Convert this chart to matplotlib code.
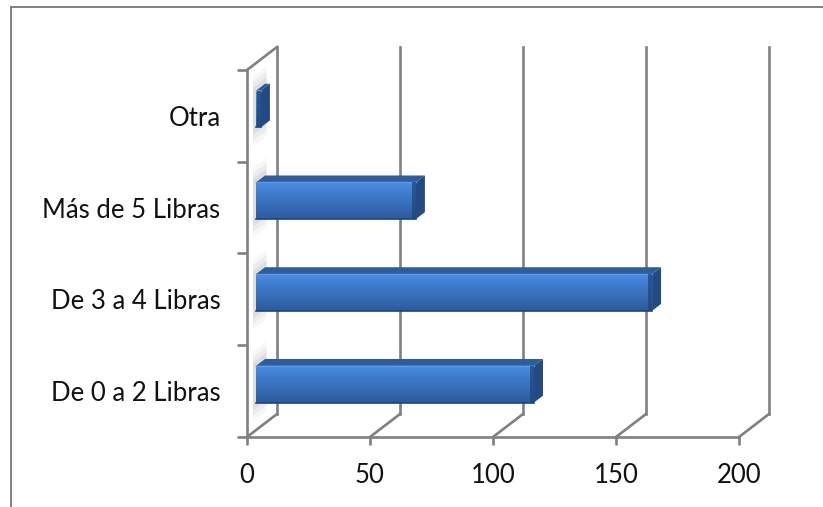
import numpy as np
import matplotlib.pyplot as plt
from matplotlib.transforms import Affine2D, IdentityTransform
from matplotlib.patches import Polygon
from matplotlib.lines import Line2D
from matplotlib.colors import LinearSegmentedColormap

categorias = ['De 0 a 2 Libras', 'De 3 a 4 Libras', 'Más de 5 Libras', 'Otra']
valores = [113, 161, 65, 2]
ticks_x = [0, 50, 100, 150, 200]

W, H = 823, 507
DX, DY = 30, 23          # profundidad del grafico 3D, en pixeles
D0, D1 = 0.3, 0.6        # cara delantera / trasera de las barras
ALTO = 0.4               # alto de barra (en categorias)
BISEL = 4                # ancho del bisel oscuro al final de la barra, px
GRIS = '#808080'
LW = 1.9

plt.rcParams['font.family'] = ['Lato', 'DejaVu Sans']

fig = plt.figure(figsize=(W / 100, H / 100), dpi=100)
ax = fig.add_axes([247 / W, 1 - 437 / H, (739 - 247) / W, (437 - 70) / H])
ax.set_xlim(0, 200)
ax.set_ylim(-0.5, len(categorias) - 0.5)
ax.patch.set_visible(False)
for s in ['top', 'right']:
    ax.spines[s].set_visible(False)
for s in ['left', 'bottom']:
    ax.spines[s].set_color(GRIS)
    ax.spines[s].set_linewidth(LW)

# ejes: marcas en los limites de categoria, etiquetas en el centro
ax.set_xticks(ticks_x)
ax.set_xticklabels([str(t) for t in ticks_x], fontsize=18.5, color='#111111')
ax.tick_params(axis='x', length=6, width=LW, color=GRIS, pad=12.5)
ax.set_yticks(np.arange(-0.5, len(categorias)))
ax.set_yticklabels([])
ax.tick_params(axis='y', length=7, width=LW, color=GRIS)
ax.set_yticks(np.arange(len(categorias)), minor=True)
ax.set_yticklabels(categorias, minor=True, fontsize=18.5, color='#111111')
ax.tick_params(axis='y', which='minor', length=0, pad=19)


def punto(x, y, d):
    px, py = ax.transData.transform((x, y))
    return (px + DX * d, py + DY * d)


def poligono(pts, **kw):
    p = Polygon(pts, closed=True, transform=IdentityTransform(), clip_on=False, **kw)
    ax.add_artist(p)


def linea(p0, p1, color=GRIS, lw=LW, **kw):
    ax.add_artist(Line2D([p0[0], p1[0]], [p0[1], p1[1]], transform=IdentityTransform(),
                         clip_on=False, color=color, linewidth=lw, **kw))


y_lo, y_hi = -0.5, len(categorias) - 0.5

# pared del fondo y suelo
for t in ticks_x:
    linea(punto(t, y_lo, 1), punto(t, y_hi, 1), zorder=1)
    linea(punto(t, y_lo, 0), punto(t, y_lo, 1), zorder=1)
# pared lateral
linea(punto(0, y_hi, 0), punto(0, y_hi, 1), zorder=1)

# barras 3D
cmap = LinearSegmentedColormap.from_list(
    'cara', ['#4a8be0', '#3f7dcf', '#3a72c0', '#3366b0', '#2c5a9e'])
n = 30
tf = ax.transData + Affine2D().translate(DX * D0, DY * D0)
for i, v in enumerate(valores):
    y0, y1 = i - ALTO / 2, i + ALTO / 2
    # sombra difusa al inicio de la barra
    for k, a in enumerate([0.06, 0.09, 0.12]):
        e = 0.06 * (3 - k)
        poligono([punto(0, y0 - e, D0 - 0.1), punto(0, y1 + e, D0 - 0.1),
                  punto(0, y1 + e, D1 + 0.05), punto(0, y0 - e, D1 + 0.05)],
                 facecolor='#808080', edgecolor='none', alpha=a, zorder=2)
    # cara superior
    poligono([punto(0, y1, D0), punto(v, y1, D0), punto(v, y1, D1), punto(0, y1, D1)],
             facecolor='#2d5d9c', edgecolor='none', zorder=3)
    # cara lateral (extremo)
    poligono([punto(v, y0, D0), punto(v, y1, D0), punto(v, y1, D1), punto(v, y0, D1)],
             facecolor='#234a82', edgecolor='none', zorder=3)
    # cara delantera con degradado vertical
    for k in range(n):
        yb = y1 - (k + 1) * ALTO / n
        ax.barh(yb, v, height=ALTO / n * 1.05, left=0, align='edge', color=cmap(k / (n - 1)),
                transform=tf, clip_on=False, zorder=4, linewidth=0)
    linea(punto(0, y0, D0), punto(v, y0, D0), color='#1f4679', lw=1.2, zorder=5)
    linea(punto(0, y1, D0), punto(v, y1, D0), color='#5a9ae8', lw=1.0, zorder=5)
    # bisel oscuro en el extremo derecho de la cara delantera
    xa, _ = punto(v, y0, D0)
    xb = max(punto(0, y0, D0)[0], xa - BISEL)
    _, ya = punto(v, y0, D0)
    _, yb2 = punto(v, y1, D0)
    poligono([(xb, ya), (xa, ya), (xa, yb2), (xb, yb2)],
             facecolor='#1f4677', edgecolor='none', alpha=0.75, zorder=5)

# marco exterior (solo arriba e izquierda)
fig.add_artist(Line2D([11 / W, 1], [1 - 7 / H, 1 - 7 / H], transform=fig.transFigure,
                      color=GRIS, linewidth=1.4))
fig.add_artist(Line2D([11 / W, 11 / W], [1 - 7 / H, 0], transform=fig.transFigure,
                      color=GRIS, linewidth=1.4))

fig.savefig('out.png', dpi=100)
